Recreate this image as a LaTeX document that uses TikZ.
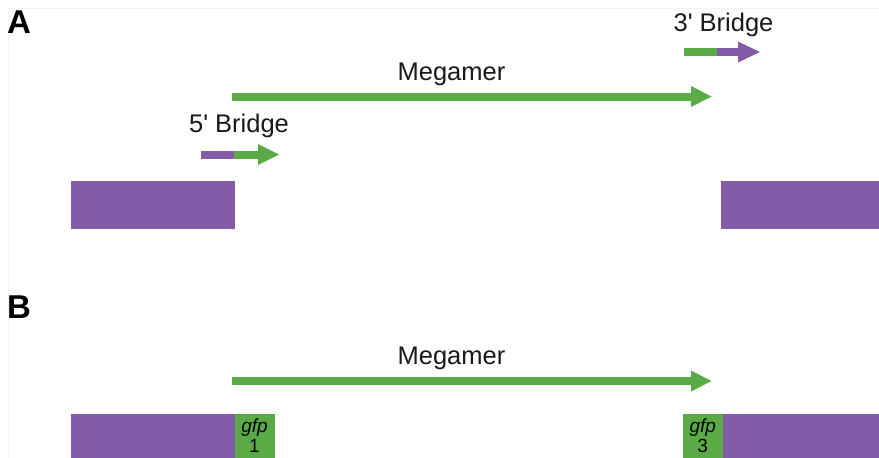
\documentclass[tikz,border=0pt]{standalone}
\usepackage{fontspec}
\setmainfont{Liberation Sans}
\definecolor{dnapurple}{RGB}{131,91,166}
\definecolor{dnagreen}{RGB}{90,170,70}
\definecolor{framegray}{RGB}{242,242,242}
\tikzset{
  lbl/.style={font=\fontsize{25.5}{30}\selectfont, inner sep=0pt, anchor=base, text=black!90},
  panellbl/.style={font=\fontsize{33}{36}\selectfont\bfseries, inner sep=0pt},
  gfpbox/.style={fill=dnagreen, inner sep=0pt, minimum width=40pt, minimum height=45pt,
    align=center, font=\fontsize{19}{20}\selectfont},
  blockbox/.style={fill=dnapurple, inner sep=0pt},
}
\begin{document}
\begin{tikzpicture}[x=1pt,y=-1pt]
\useasboundingbox (0,0) rectangle (879,458);
% faint panel frame lines
\draw[framegray, line width=0.8pt] (8,458) -- (8,8) -- (879,8);
% panel labels
\node[panellbl] (labA) at (19,22) {A};
\node[panellbl] (labB) at (19,307) {B};

% ---------- Panel A ----------
\path[blockbox] (71,181) rectangle (235,228.5);
\path[blockbox] (721,181) rectangle (879,228.5);

% Megamer arrow A
\fill[dnagreen] (232,92.5) rectangle (692,100.5);
\fill[dnagreen] (691,86) -- (711.5,96.5) -- (691,107) -- cycle;
\node[lbl] (megA) at (451.5,80) {Megamer};

% 5' Bridge
\fill[dnapurple] (201,150.5) rectangle (234,158.5);
\fill[dnagreen] (233.5,150.5) rectangle (259,158.5);
\fill[dnagreen] (258,144) -- (279,154.5) -- (258,165) -- cycle;
\node[lbl] (br5) at (239,132) {5\textquotesingle{} Bridge};

% 3' Bridge
\fill[dnagreen] (684,48) rectangle (717.5,56);
\fill[dnapurple] (717,48) rectangle (739,56);
\fill[dnapurple] (738,41.5) -- (760,52) -- (738,62.5) -- cycle;
\node[lbl] (br3) at (723.5,31.5) {3\textquotesingle{} Bridge};

% ---------- Panel B ----------
\fill[dnagreen] (232,377) rectangle (692,385);
\fill[dnagreen] (691,370.5) -- (711.5,381) -- (691,391.5) -- cycle;
\node[lbl] (megB) at (451.5,364.5) {Megamer};

\path[blockbox] (71,413.5) rectangle (234.5,458);
\node[gfpbox, minimum height=44.5pt] (gfp1) at (254.5,435.75) {\textit{gfp}\\1};
\node[gfpbox, minimum height=44.5pt] (gfp3) at (702.75,435.75) {\textit{gfp}\\3};
\path[blockbox] (722.5,413.5) rectangle (879,458);
\end{tikzpicture}
\end{document}
